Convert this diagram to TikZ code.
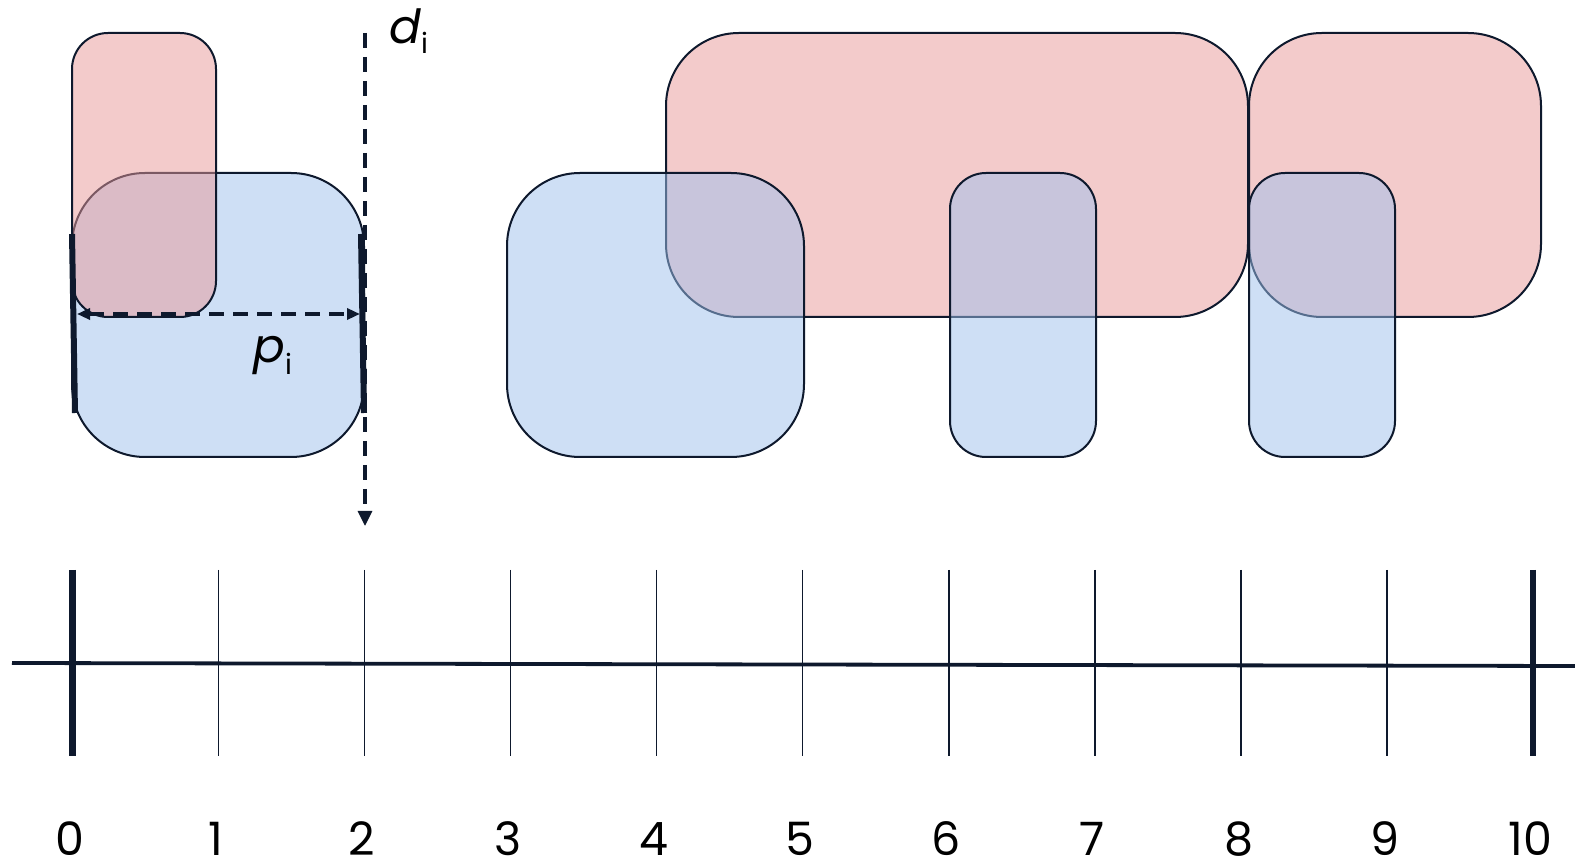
\documentclass[tikz,border=0pt]{standalone}
\usepackage{fontspec}
\setmainfont{Poppins}
\usetikzlibrary{arrows.meta}
\definecolor{ink}{RGB}{14,25,45}
\definecolor{jobred}{RGB}{233,153,153}
\definecolor{jobblue}{RGB}{159,193,237}
\begin{document}
\begin{tikzpicture}[x=0.5pt,y=-0.5pt,
  box/.style={draw=ink, line width=1pt, inner sep=0pt, outer sep=0pt, anchor=north west,
              minimum height=142pt, fill opacity=0.5},
  redjob/.style={box, fill=jobred},
  bluejob/.style={box, fill=jobblue},
  widebox/.style={rounded corners=36.5pt},
  narrowbox/.style={rounded corners=18pt},
  axisline/.style={draw=ink, line width=1.9pt},
  thintick/.style={draw=ink, line width=0.8pt},
  thicktick/.style={draw=ink, line width=3.2pt},
  bar/.style={draw=ink, line width=3pt},
  dashline/.style={draw=ink, line width=1.6pt, dash pattern=on 7.5pt off 4.5pt},
  numlbl/.style={anchor=base, inner sep=0pt, text depth=0pt, font=\fontsize{23}{26}\selectfont},
  symlbl/.style={anchor=base west, inner sep=0pt, font=\fontsize{23.5}{28}\selectfont\itshape}
]
\useasboundingbox (0,0) rectangle (1575,865);
\fill[white] (0,0) rectangle (1575,865);

% left example: blue job under red job
\node[bluejob, widebox, minimum width=146pt] (b1) at (72,173) {};
\node[redjob, narrowbox, minimum width=72pt] (r1) at (72,33) {};

% right schedule: red jobs under blue jobs
\node[redjob, widebox, minimum width=291pt] (r2) at (666,33) {};
\node[redjob, widebox, minimum width=146pt] (r3) at (1249,33) {};
\node[bluejob, widebox, minimum width=148.5pt] (b2) at (507,173) {};
\node[bluejob, narrowbox, minimum width=73pt] (b3) at (950,173) {};
\node[bluejob, narrowbox, minimum width=73pt] (b4) at (1249,173) {};

% bars marking the processing time
\coordinate (barLt) at (72,234);
\coordinate (barLb) at (75,413);
\coordinate (barRt) at (361,234);
\coordinate (barRb) at (364,413);
\draw[bar] (barLt) -- (barLb);
\draw[bar] (barRt) -- (barRb);

% p_i arrow
\coordinate (pL) at (77,314);
\coordinate (pR) at (360,314);
\draw[dashline, {Triangle[length=6.5pt,width=5.5pt]}-{Triangle[length=6.5pt,width=5.5pt]}] (pL) -- (pR);
\node[symlbl] (plbl) at (253,363) {p\raisebox{-6pt}{\upshape\fontsize{14}{16}\selectfont i}};

% d_i arrow
\coordinate (dT) at (365,33);
\coordinate (dB) at (365,526);
\draw[dashline, -{Triangle[length=7.5pt,width=7pt]}] (dT) -- (dB);
\node[symlbl] (dlbl) at (389,44) {d\raisebox{-5pt}{\upshape\fontsize{14}{16}\selectfont i}};

% time axis
\coordinate (axL) at (12,663);
\coordinate (axR) at (1575,666);
\draw[axisline] (axL) -- (axR);
\foreach \i in {0,...,10}{
  \coordinate (tt\i) at ({72.3+146.07*\i},570);
  \coordinate (tb\i) at ({72.3+146.07*\i},756);
  \node[numlbl] (lab\i) at ({70+146.07*\i},855) {\i};
}
\foreach \i in {1,...,9}{ \draw[thintick] (tt\i) -- (tb\i); }
\draw[thicktick] (tt0) -- (tb0);
\draw[thicktick] (tt10) -- (tb10);
\end{tikzpicture}
\end{document}
